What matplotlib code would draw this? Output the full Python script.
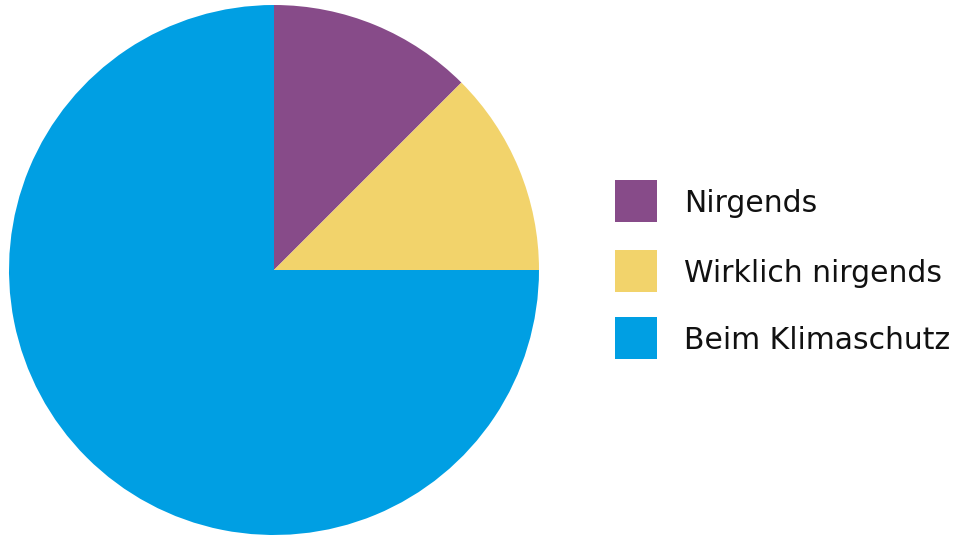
import matplotlib
matplotlib.use("Agg")
import matplotlib.pyplot as plt
from matplotlib.patches import Rectangle

labels = ["Nirgends", "Wirklich nirgends", "Beim Klimaschutz"]
values = [12.5, 12.5, 75]
colors = ["#874b89", "#f2d36b", "#009fe3"]

W, H = 960, 535
fig = plt.figure(figsize=(W / 100, H / 100), dpi=100)
fig.patch.set_facecolor("white")

cx, cy, r = 274, 270, 265
ax = fig.add_axes([(cx - r) / W, (H - cy - r) / H, 2 * r / W, 2 * r / H])
ax.pie(values, colors=colors, startangle=90, counterclock=False, radius=1,
       wedgeprops=dict(linewidth=0))
ax.set_xlim(-1, 1)
ax.set_ylim(-1, 1)
ax.set_aspect("equal")
ax.axis("off")

box_x, box_s = 615, 42
row_y = [201, 271, 338]
for lab, col, y in zip(labels, colors, row_y):
    fig.patches.append(Rectangle(((box_x) / W, (H - y - box_s / 2) / H), box_s / W, box_s / H,
                                 transform=fig.transFigure, facecolor=col, edgecolor="none"))
    fig.text(684 / W, (H - y - 11) / H, lab, fontsize=21.5, family=["DejaVu Sans"],
             va="baseline", ha="left", color="#111111")

fig.savefig("out.png", dpi=100, facecolor="white")
